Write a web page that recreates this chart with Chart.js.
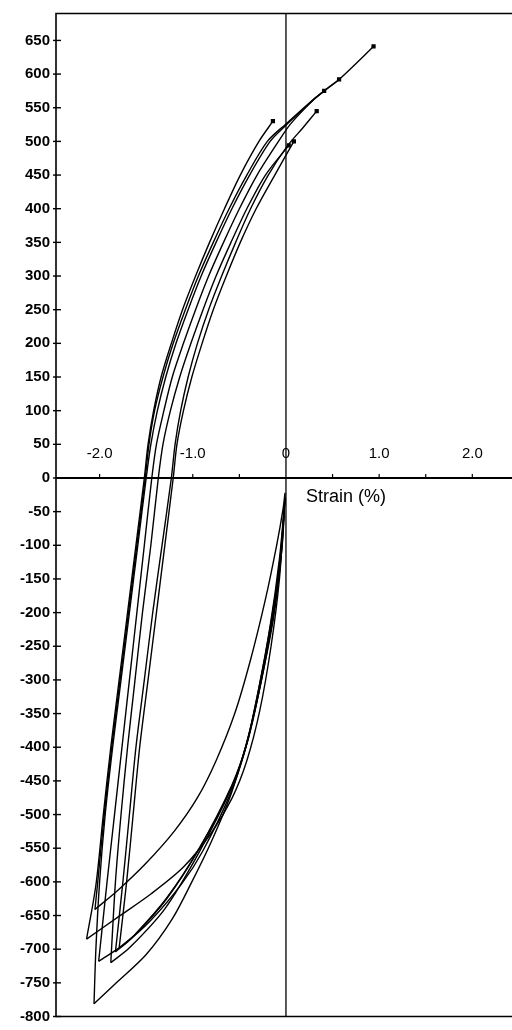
<!DOCTYPE html>
<html>
<head>
<meta charset="utf-8">
<script src="https://cdn.jsdelivr.net/npm/chart.js@4.4.1/dist/chart.umd.min.js"></script>
<style>
  html, body { margin: 0; background: #fff; }
  #wrap { width: 512px; height: 1030px; }
</style>
</head>
<body>
<div id="wrap"><canvas id="chart"></canvas></div>
<script>
// strain (%) / stress pairs
// loading legs: peak marker -> upper curve -> compressive leg -> tip
const cycA_load = [[-0.14,530],[-0.29,500],[-0.49,450],[-0.66,400],[-0.82,350],[-0.97,300],[-1.11,250],[-1.23,200],[-1.34,150],[-1.42,100],[-1.48,50],[-1.52,0],[-1.61,-100],[-1.70,-200],[-1.79,-300],[-1.88,-400],[-1.96,-500],[-2.04,-605],[-2.14,-685]];
const cycB_load = [[0.94,641],[0.57,592],[0.41,575],[0.29,562],[0,526],[-0.20,500],[-0.42,450],[-0.61,400],[-0.78,350],[-0.94,300],[-1.08,250],[-1.21,200],[-1.32,150],[-1.41,100],[-1.47,50],[-1.51,0],[-1.60,-100],[-1.69,-200],[-1.78,-300],[-1.87,-400],[-1.95,-500],[-2.02,-600],[-2.05,-641]];
const cycF_load = [[0.57,592],[0.41,575],[0.29,561],[0,524],[-0.17,500],[-0.39,450],[-0.58,400],[-0.75,350],[-0.91,300],[-1.05,250],[-1.18,200],[-1.29,150],[-1.38,100],[-1.45,50],[-1.50,0],[-1.59,-100],[-1.68,-200],[-1.77,-300],[-1.86,-400],[-1.94,-500],[-2.00,-600],[-2.04,-700],[-2.06,-781]];
const cycC_load = [[0.41,575],[0.29,561],[0.05,526],[-0.08,500],[-0.31,450],[-0.50,400],[-0.67,350],[-0.83,300],[-0.97,250],[-1.10,200],[-1.22,150],[-1.31,100],[-1.39,50],[-1.44,0],[-1.52,-100],[-1.60,-200],[-1.68,-300],[-1.76,-400],[-1.84,-500],[-1.92,-600],[-2.01,-718]];
const cycD_load = [[0.03,494],[-0.22,450],[-0.42,400],[-0.59,350],[-0.75,300],[-0.89,250],[-1.02,200],[-1.14,150],[-1.24,100],[-1.32,50],[-1.37,0],[-1.45,-100],[-1.54,-200],[-1.62,-300],[-1.70,-400],[-1.77,-500],[-1.83,-600],[-1.88,-720]];
const cycE_load = [[0.33,545],[0.18,520],[0.02,494],[-0.19,450],[-0.38,400],[-0.54,350],[-0.69,300],[-0.83,250],[-0.95,200],[-1.05,150],[-1.13,100],[-1.19,50],[-1.23,0],[-1.33,-100],[-1.43,-200],[-1.52,-300],[-1.61,-400],[-1.68,-500],[-1.75,-600],[-1.83,-704]];
const cycG_load = [[0.085,500],[-0.12,450],[-0.32,400],[-0.49,350],[-0.64,300],[-0.78,250],[-0.90,200],[-1.01,150],[-1.10,100],[-1.17,50],[-1.21,0],[-1.30,-100],[-1.39,-200],[-1.48,-300],[-1.57,-400],[-1.64,-500],[-1.71,-600],[-1.79,-698]];

// return legs: tip -> lower curve -> back near zero strain
const cycA_back = [[-2.14,-685],[-1.80,-652],[-1.45,-618],[-1.10,-578],[-0.80,-527],[-0.58,-476],[-0.42,-420],[-0.28,-345],[-0.16,-250],[-0.07,-150],[-0.02,-50]];
const cycB_back = [[-2.05,-641],[-1.80,-612],[-1.50,-572],[-1.20,-525],[-0.95,-475],[-0.75,-420],[-0.55,-350],[-0.38,-270],[-0.22,-180],[-0.10,-100],[-0.03,-45],[-0.01,-22]];
const cycF_back = [[-2.06,-781],[-1.82,-750],[-1.50,-708],[-1.22,-655],[-1.01,-600],[-0.80,-540],[-0.585,-468],[-0.40,-382],[-0.27,-305],[-0.13,-205],[-0.04,-100],[-0.01,-25]];
const cycC_back = [[-2.01,-718],[-1.75,-694],[-1.45,-657],[-1.12,-603],[-0.90,-556],[-0.60,-470],[-0.43,-400],[-0.30,-318],[-0.17,-220],[-0.07,-120],[-0.01,-30]];
const cycD_back = [[-1.88,-720],[-1.68,-698],[-1.30,-640],[-0.94,-558],[-0.60,-465],[-0.43,-398],[-0.29,-312],[-0.16,-214],[-0.06,-118],[-0.01,-30]];
const cycE_back = [[-1.83,-704],[-1.65,-683],[-1.29,-627],[-0.94,-553],[-0.585,-460],[-0.42,-395],[-0.28,-310],[-0.15,-210],[-0.06,-115],[-0.01,-30]];
const cycG_back = [[-1.79,-698],[-1.62,-678],[-1.28,-624],[-0.93,-550],[-0.58,-456],[-0.41,-390],[-0.27,-305],[-0.14,-207],[-0.05,-112],[-0.01,-30]];

// peak markers
const peakX = [-0.14, 0.94, 0.57, 0.41, 0.33, 0.085, 0.03];
const peakY = [530, 641, 592, 575, 545, 500, 494];

// axis ticks
const xMinorTicks = [-2.0, -1.5, -1.0, -0.5, 0.5, 1.0, 1.5, 2.0];
const xLabelVals = [-2, -1, 0, 1, 2];
const xLabels = ['-2.0', '-1.0', '0', '1.0', '2.0'];
const xTitle = 'Strain (%)';

const legs = [cycA_load, cycB_load, cycF_load, cycC_load, cycD_load, cycE_load, cycG_load,
              cycA_back, cycB_back, cycF_back, cycC_back, cycD_back, cycE_back, cycG_back];

const datasets = legs.map(leg => ({
  data: leg.map(p => ({ x: p[0], y: p[1] })),
  showLine: true,
  borderColor: '#000',
  borderWidth: 1.4,
  pointRadius: 0,
  tension: 0.3
}));
datasets.push({
  data: peakX.map((v, i) => ({ x: v, y: peakY[i] })),
  showLine: false,
  pointStyle: 'rect',
  pointRadius: 3,
  backgroundColor: '#000',
  borderColor: '#000',
  borderWidth: 0
});

const axesPlugin = {
  id: 'axesPlugin',
  afterDraw(chart) {
    const { ctx, chartArea: a, scales: { x, y } } = chart;
    const x0 = x.getPixelForValue(0);
    const y0 = y.getPixelForValue(0);
    const w = chart.width;
    ctx.save();
    ctx.strokeStyle = '#000';

    // frame
    ctx.lineWidth = 1.6;
    ctx.beginPath();
    ctx.moveTo(w, a.top);
    ctx.lineTo(a.left, a.top);
    ctx.lineTo(a.left, a.bottom);
    ctx.lineTo(w, a.bottom);
    ctx.stroke();

    // y tick marks
    ctx.lineWidth = 1.4;
    y.ticks.forEach(t => {
      const py = y.getPixelForValue(t.value);
      ctx.beginPath();
      ctx.moveTo(a.left - 3, py);
      ctx.lineTo(a.left + 5, py);
      ctx.stroke();
    });

    // zero strain line
    ctx.lineWidth = 1.3;
    ctx.beginPath();
    ctx.moveTo(x0, a.top);
    ctx.lineTo(x0, a.bottom);
    ctx.stroke();

    // strain axis at zero stress
    ctx.lineWidth = 2;
    ctx.beginPath();
    ctx.moveTo(a.left, y0);
    ctx.lineTo(w, y0);
    ctx.stroke();
    ctx.lineWidth = 1.2;
    xMinorTicks.forEach(v => {
      const px = x.getPixelForValue(v);
      ctx.beginPath();
      ctx.moveTo(px, y0);
      ctx.lineTo(px, y0 - 4);
      ctx.stroke();
    });

    ctx.fillStyle = '#000';
    ctx.font = '15px "Liberation Sans", Arial, sans-serif';
    ctx.textAlign = 'center';
    ctx.textBaseline = 'middle';
    xLabelVals.forEach((v, i) => {
      ctx.fillText(xLabels[i], x.getPixelForValue(v), y0 - 24);
    });

    ctx.font = '18px "Liberation Sans", Arial, sans-serif';
    ctx.textAlign = 'left';
    ctx.fillText(xTitle, x0 + 20, y0 + 19);
    ctx.restore();
  }
};

new Chart(document.getElementById('chart'), {
  type: 'scatter',
  data: { datasets },
  options: {
    responsive: true,
    maintainAspectRatio: false,
    animation: false,
    layout: { padding: { top: 13, bottom: 8, left: 0, right: 0 } },
    plugins: { legend: { display: false }, tooltip: { enabled: false } },
    scales: {
      x: { type: 'linear', min: -2.468, max: 2.383, display: false },
      y: {
        type: 'linear',
        min: -800,
        max: 690,
        border: { display: false },
        grid: { drawOnChartArea: false, drawTicks: false },
        ticks: {
          stepSize: 50,
          includeBounds: false,
          padding: 6,
          color: '#000',
          font: { family: '"Liberation Sans", Arial, sans-serif', size: 15, weight: 'bold', lineHeight: 1 }
        },
        afterFit(scale) { scale.width = 56; }
      }
    }
  },
  plugins: [axesPlugin]
});
</script>
</body>
</html>
